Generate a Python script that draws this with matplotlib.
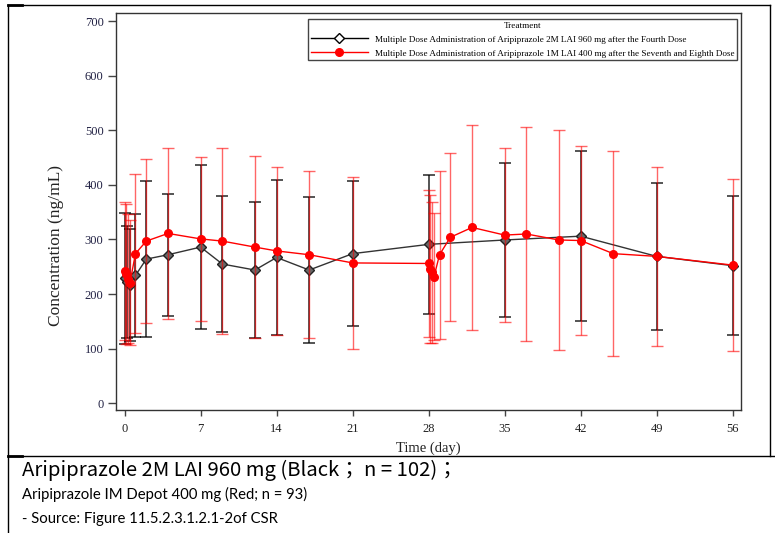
import matplotlib
matplotlib.use("Agg")
import matplotlib.pyplot as plt
from matplotlib.lines import Line2D

# 2M LAI 960 mg (black)
black_days = [0, 0.25, 0.5, 1, 2, 4, 7, 9, 12, 14, 17, 21, 28, 35, 42, 49, 56]
black_mean = [229, 222, 217, 234, 264, 272, 286, 255, 244, 267, 244, 274, 291, 299, 306, 269, 252]
black_sd = [120, 102, 103, 113, 143, 112, 150, 124, 125, 142, 133, 133, 127, 141, 156, 134, 127]

# 1M LAI 400 mg (red)
red_days = [0, 0.17, 0.33, 0.5, 1, 2, 4, 7, 9, 12, 14, 17, 21,
            28, 28.17, 28.33, 28.5, 29, 30, 32, 35, 37, 40, 42, 45, 49, 56]
red_mean = [242, 236, 228, 221, 274, 297, 311, 301, 297, 286, 279, 272, 257,
            256, 246, 240, 232, 272, 304, 322, 308, 310, 299, 298, 274, 269, 253]
red_sd = [127, 128, 118, 115, 146, 150, 157, 150, 170, 167, 154, 153, 158,
          134, 135, 129, 117, 154, 154, 187, 160, 196, 201, 173, 188, 164, 157]

xticks = list(range(0, 57, 7))
yticks = list(range(0, 701, 100))

leg_title = "Treatment"
leg_black = "Multiple Dose Administration of Aripiprazole 2M LAI 960 mg after the Fourth Dose"
leg_red = "Multiple Dose Administration of Aripiprazole 1M LAI 400 mg after the Seventh and Eighth Dose"

caption1 = "Aripiprazole 2M LAI 960 mg (Black\uff1b n = 102)\uff1b"
caption2 = "Aripiprazole IM Depot 400 mg (Red; n = 93)"
caption3 = "- Source: Figure 11.5.2.3.1.2.1-2of CSR"

serif = "Liberation Serif"

fig = plt.figure(figsize=(7.75, 5.33), dpi=100)
W, H = 775, 533
ax = fig.add_axes([116 / W, 1 - 410 / H, (741.3 - 116) / W, (410 - 12.7) / H])

ax.errorbar(red_days, red_mean, yerr=red_sd, color="red", lw=1, marker="o",
            ms=5.5, mfc="red", mec="red", ecolor=(1, 0, 0, 0.6), elinewidth=1,
            capsize=4, capthick=1, zorder=3)
ax.errorbar(black_days, black_mean, yerr=black_sd, color="#333333", lw=1, marker="D",
            ms=5, mfc="#666666", mec="#222222", ecolor=(0, 0, 0, 0.85), elinewidth=1.1,
            capsize=4, capthick=1.1, zorder=2)

ax.set_xlim(-0.79, 56.79)
ax.set_ylim(-12.3, 715.2)
ax.set_xticks(xticks)
ax.set_yticks(yticks)
for s in ax.spines.values():
    s.set_color("#333333")
    s.set_linewidth(1)
ax.tick_params(axis="y", direction="out", length=5.5, width=1, color="#444444",
               pad=3.5, labelsize=9, labelcolor="#222244")
ax.tick_params(axis="x", direction="out", length=4.5, width=1, color="#444444",
               pad=5, labelsize=9, labelcolor="#222222")
for lab in ax.get_xticklabels() + ax.get_yticklabels():
    lab.set_family(serif)

ax.set_xlabel("Time (day)", family=serif, fontsize=10.5, color="#222222")
ax.set_ylabel("Concentration (ng/mL)", family=serif, fontsize=12.5, color="#222222")
ax.xaxis.set_label_coords(0.5, -0.08)
ax.yaxis.set_label_coords(-0.083, 0.413)

h_black = Line2D([], [], color="black", lw=1, marker="D", ms=5, mfc="white", mec="black")
h_red = Line2D([], [], color="red", lw=1, marker="o", ms=5.5, mfc="red", mec="red")
leg = ax.legend([h_black, h_red], [leg_black, leg_red], title=leg_title,
                loc="upper right", bbox_to_anchor=(737 / W, 1 - 19 / H),
                bbox_transform=fig.transFigure, borderaxespad=0,
                prop={"family": serif, "size": 6.6}, title_fontproperties={"family": serif, "size": 6.6},
                handlelength=6.2, handletextpad=0.75, fancybox=False, framealpha=1,
                edgecolor="#444444", labelspacing=0.6, borderpad=0.3)
leg.get_frame().set_linewidth(1)

# document frame lines
def fline(x0, y0, x1, y1, lw=1.0):
    fig.add_artist(Line2D([x0 / W, x1 / W], [1 - y0 / H, 1 - y1 / H],
                          transform=fig.transFigure, color="black", lw=lw))

fline(8, 5, 770, 5)
fline(8, 5, 8, 533)
fline(770, 5, 770, 456)
fline(8, 456, 775, 456)
fline(8, 5, 22, 5, lw=2)
fline(8, 456, 22, 456, lw=2)

fig.text(22 / W, 1 - 470 / H, caption1, family=["Noto Sans CJK JP", "DejaVu Sans"],
         fontsize=14.6, va="center", ha="left", color="black")
fig.text(22 / W, 1 - 494 / H, caption2, family="Lato", fontsize=10.7,
         va="center", ha="left", color="black")
fig.text(22 / W, 1 - 519 / H, caption3, family="Lato", fontsize=10.7,
         va="center", ha="left", color="black")

fig.savefig("out.png", dpi=100)
